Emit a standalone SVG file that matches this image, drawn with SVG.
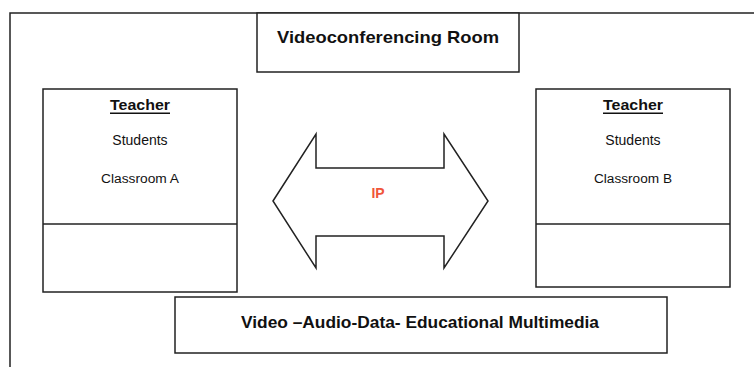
<svg xmlns="http://www.w3.org/2000/svg" width="754" height="367" viewBox="0 0 754 367">
<style>
.box{fill:#fff;stroke:#222;stroke-width:1.5}
.ln{fill:none;stroke:#222;stroke-width:1.5}
.t{font-family:"Liberation Sans",Arial,sans-serif;fill:#111;text-anchor:middle;dominant-baseline:central}
.b{font-weight:bold}
</style>
<rect width="754" height="367" fill="#fff"/>
<g id="frame"><path class="ln" d="M10 367 V13 H754"/></g>
<g id="title"><rect class="box" x="257" y="13" width="262" height="59"/>
<text class="t b" x="388" y="37" font-size="17" textLength="222" lengthAdjust="spacingAndGlyphs">Videoconferencing Room</text></g>
<g id="classroomA"><rect class="box" x="43" y="89" width="194" height="203"/>
<line class="ln" x1="43" y1="224" x2="237" y2="224"/>
<text class="t b" x="140" y="104" font-size="15" text-decoration="underline" textLength="60" lengthAdjust="spacingAndGlyphs">Teacher</text>
<text class="t" x="140" y="140" font-size="14">Students</text>
<text class="t" x="140" y="179" font-size="12.5" textLength="78" lengthAdjust="spacingAndGlyphs">Classroom A</text></g>
<g id="classroomB"><rect class="box" x="536" y="89" width="194" height="198"/>
<line class="ln" x1="536" y1="224" x2="730" y2="224"/>
<text class="t b" x="633" y="104" font-size="15" text-decoration="underline" textLength="60" lengthAdjust="spacingAndGlyphs">Teacher</text>
<text class="t" x="633" y="140" font-size="14">Students</text>
<text class="t" x="633" y="179" font-size="12.5" textLength="78" lengthAdjust="spacingAndGlyphs">Classroom B</text></g>
<g id="connectors"><g id="ip"><path class="box" d="M273 201 L316 134 V168 H444 V134 L488 201 L444 268 V236 H316 V268 Z"/>
<text class="t b" x="378" y="193" font-size="14" style="fill:#f0553a">IP</text></g></g>
<g id="media"><rect class="box" x="175" y="297" width="492" height="56"/>
<text class="t b" x="420" y="322" font-size="16" textLength="358" lengthAdjust="spacingAndGlyphs">Video –Audio-Data- Educational Multimedia</text></g>
</svg>
